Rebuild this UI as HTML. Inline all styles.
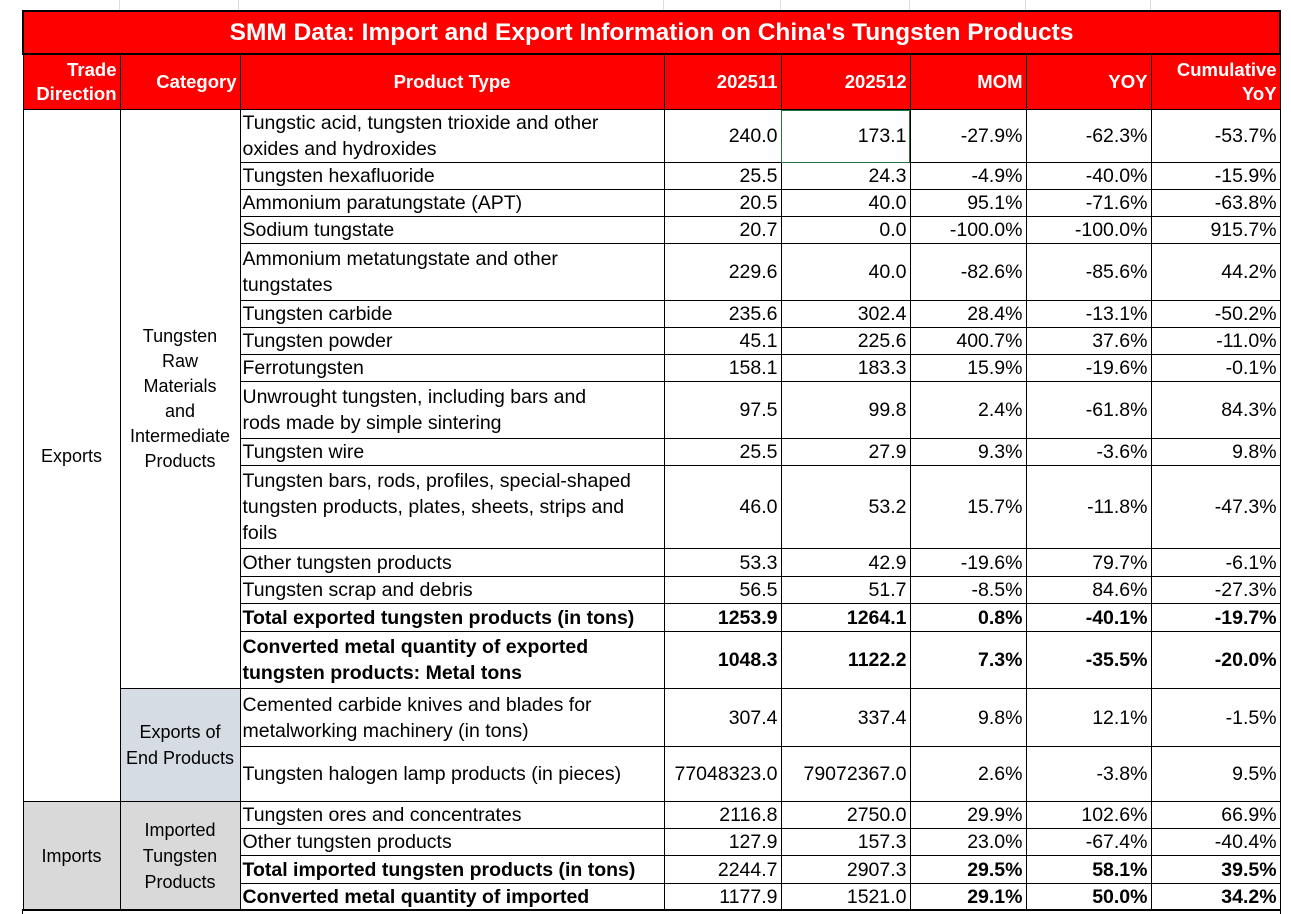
<!DOCTYPE html>
<html><head><meta charset="utf-8"><style>
html,body{margin:0;padding:0;background:#fff;width:1291px;height:914px;overflow:hidden;position:relative;font-family:"Liberation Sans",Arial,sans-serif;}
table{position:absolute;left:22px;top:10px;border-collapse:collapse;table-layout:fixed;width:1257px;}
td{border:1px solid #000;padding:0 3px;font-size:19.5px;color:#000;white-space:nowrap;line-height:26px;overflow:hidden;vertical-align:middle;text-align:right;}
.t{background:#ff0000;color:#fff;font-weight:bold;font-size:24.5px;text-align:center;border:2px solid #000;height:41px;}
.h td{background:#ff0000;color:#fff;font-weight:bold;font-size:18.5px;line-height:24px;height:54px;}
.p{text-align:left;padding-left:2px;}
.c{text-align:center;}
.b td{font-weight:bold;}
.g{background:#d9d9d9;}
.bl{background:#d6dce4;}
.sel{outline:1px solid #217346;outline-offset:-1px;}
.grid{position:absolute;top:0;height:10px;border-left:1px solid #ddd;}
</style></head><body>
<div class="grid" style="left:119px"></div><div class="grid" style="left:238px"></div><div class="grid" style="left:663px"></div><div class="grid" style="left:780px"></div><div class="grid" style="left:909px"></div><div class="grid" style="left:1025px"></div><div class="grid" style="left:1150px"></div>
<table>
<colgroup><col style="width:97px"><col style="width:120px"><col style="width:424px"><col style="width:117px"><col style="width:129px"><col style="width:116px"><col style="width:125px"><col style="width:129px"></colgroup>
<tr><td class="t" colspan="8">SMM Data: Import and Export Information on China's Tungsten Products</td></tr>
<tr class="h"><td>Trade<br>Direction</td><td>Category</td><td class="c">Product Type</td><td>202511</td><td>202512</td><td>MOM</td><td>YOY</td><td>Cumulative<br>YoY</td></tr>
<tr style="height:51px"><td rowspan="17" class="c" style="font-size:18px">Exports</td><td rowspan="15" class="c" style="line-height:25px;font-size:18px">Tungsten<br>Raw<br>Materials<br>and<br>Intermediate<br>Products</td><td class="p">Tungstic acid, tungsten trioxide and other<br>oxides and hydroxides</td><td>240.0</td><td class="sel">173.1</td><td>-27.9%</td><td>-62.3%</td><td>-53.7%</td></tr>
<tr style="height:27px"><td class="p">Tungsten hexafluoride</td><td>25.5</td><td>24.3</td><td>-4.9%</td><td>-40.0%</td><td>-15.9%</td></tr>
<tr style="height:27px"><td class="p">Ammonium paratungstate (APT)</td><td>20.5</td><td>40.0</td><td>95.1%</td><td>-71.6%</td><td>-63.8%</td></tr>
<tr style="height:27px"><td class="p">Sodium tungstate</td><td>20.7</td><td>0.0</td><td>-100.0%</td><td>-100.0%</td><td>915.7%</td></tr>
<tr style="height:57px"><td class="p">Ammonium metatungstate and other<br>tungstates</td><td>229.6</td><td>40.0</td><td>-82.6%</td><td>-85.6%</td><td>44.2%</td></tr>
<tr style="height:27px"><td class="p">Tungsten carbide</td><td>235.6</td><td>302.4</td><td>28.4%</td><td>-13.1%</td><td>-50.2%</td></tr>
<tr style="height:27px"><td class="p">Tungsten powder</td><td>45.1</td><td>225.6</td><td>400.7%</td><td>37.6%</td><td>-11.0%</td></tr>
<tr style="height:27px"><td class="p">Ferrotungsten</td><td>158.1</td><td>183.3</td><td>15.9%</td><td>-19.6%</td><td>-0.1%</td></tr>
<tr style="height:57px"><td class="p">Unwrought tungsten, including bars and<br>rods made by simple sintering</td><td>97.5</td><td>99.8</td><td>2.4%</td><td>-61.8%</td><td>84.3%</td></tr>
<tr style="height:27px"><td class="p">Tungsten wire</td><td>25.5</td><td>27.9</td><td>9.3%</td><td>-3.6%</td><td>9.8%</td></tr>
<tr style="height:83px"><td class="p">Tungsten bars, rods, profiles, special-shaped<br>tungsten products, plates, sheets, strips and<br>foils</td><td>46.0</td><td>53.2</td><td>15.7%</td><td>-11.8%</td><td>-47.3%</td></tr>
<tr style="height:28px"><td class="p">Other tungsten products</td><td>53.3</td><td>42.9</td><td>-19.6%</td><td>79.7%</td><td>-6.1%</td></tr>
<tr style="height:27px"><td class="p">Tungsten scrap and debris</td><td>56.5</td><td>51.7</td><td>-8.5%</td><td>84.6%</td><td>-27.3%</td></tr>
<tr class="b" style="height:28px"><td class="p">Total exported tungsten products (in tons)</td><td>1253.9</td><td>1264.1</td><td>0.8%</td><td>-40.1%</td><td>-19.7%</td></tr>
<tr class="b" style="height:57px"><td class="p">Converted metal quantity of exported<br>tungsten products: Metal tons</td><td>1048.3</td><td>1122.2</td><td>7.3%</td><td>-35.5%</td><td>-20.0%</td></tr>
<tr style="height:58px"><td rowspan="2" class="c bl" style="font-size:18px">Exports of<br>End Products</td><td class="p">Cemented carbide knives and blades for<br>metalworking machinery (in tons)</td><td>307.4</td><td>337.4</td><td>9.8%</td><td>12.1%</td><td>-1.5%</td></tr>
<tr style="height:55px"><td class="p">Tungsten halogen lamp products (in pieces)</td><td>77048323.0</td><td>79072367.0</td><td>2.6%</td><td>-3.8%</td><td>9.5%</td></tr>
<tr style="height:27px"><td rowspan="4" class="c g" style="font-size:18px">Imports</td><td rowspan="4" class="c g" style="font-size:18px">Imported<br>Tungsten<br>Products</td><td class="p">Tungsten ores and concentrates</td><td>2116.8</td><td>2750.0</td><td>29.9%</td><td>102.6%</td><td>66.9%</td></tr>
<tr style="height:27px"><td class="p">Other tungsten products</td><td>127.9</td><td>157.3</td><td>23.0%</td><td>-67.4%</td><td>-40.4%</td></tr>
<tr style="height:28px"><td class="p" style="font-weight:bold">Total imported tungsten products (in tons)</td><td>2244.7</td><td>2907.3</td><td style="font-weight:bold">29.5%</td><td style="font-weight:bold">58.1%</td><td style="font-weight:bold">39.5%</td></tr>
<tr style="height:27px"><td class="p" style="font-weight:bold">Converted metal quantity of imported</td><td>1177.9</td><td>1521.0</td><td style="font-weight:bold">29.1%</td><td style="font-weight:bold">50.0%</td><td style="font-weight:bold">34.2%</td></tr>
</table>
<div style="position:absolute;left:22px;top:909px;width:1257px;height:5px;border-top:2px solid #000;border-left:1px solid #000;border-right:1px solid #000;"></div>
</body></html>
